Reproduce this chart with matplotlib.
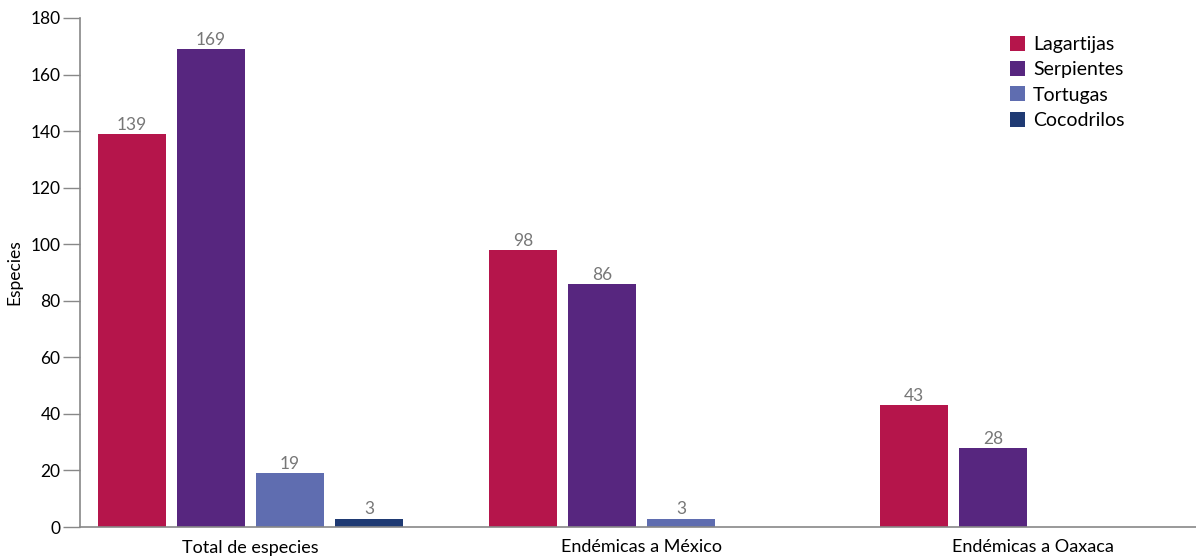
import numpy as np
import matplotlib
matplotlib.use('Agg')
import matplotlib.pyplot as plt

plt.rcParams['font.family'] = ['Lato', 'DejaVu Sans']

categories = ['Total de especies', 'Endémicas a México', 'Endémicas a Oaxaca']
groups = ['Lagartijas', 'Serpientes', 'Tortugas', 'Cocodrilos']
lagartijas = [139, 98, 43]
serpientes = [169, 86, 28]
tortugas = [19, 3, np.nan]
cocodrilos = [3, np.nan, np.nan]
colors = ['#B5154B', '#57267F', '#5F6DB0', '#1F3A73']

series = [lagartijas, serpientes, tortugas, cocodrilos]

fig = plt.figure(figsize=(11.96, 5.6), dpi=100)
ax = fig.add_axes([80 / 1196, 33 / 560, 1 - 80 / 1196, 509 / 560])

x = np.arange(len(categories))
w = 0.176
pitch = 0.202
for i, (name, vals, c) in enumerate(zip(groups, series, colors)):
    pos = x + (i - 1.5) * pitch
    v = np.array(vals, dtype=float)
    ok = ~np.isnan(v)
    ax.bar(pos[ok], v[ok], width=w, color=c, label=name)
    for px, pv in zip(pos[ok], v[ok]):
        ax.text(px, pv + 0.4, f'{int(pv)}', ha='center', va='bottom',
                fontsize=12.5, color='#777777')

ax.set_xlim(-0.436, 2.418)
ax.set_ylim(0, 180)
ax.set_yticks(range(0, 181, 20))
ax.set_xticks(x)
ax.set_xticklabels(categories, fontsize=13)
ax.tick_params(axis='x', length=0, pad=9)
ax.tick_params(axis='y', length=12, width=1, color='#888888', labelsize=12.5, pad=2)
for s in ['top', 'right']:
    ax.spines[s].set_visible(False)
for s in ['left', 'bottom']:
    ax.spines[s].set_color('#888888')
    ax.spines[s].set_linewidth(1.2)
ax.set_ylabel('Especies', fontsize=12.5, labelpad=6)

ax.legend(loc='upper left', bbox_to_anchor=(1000 / 1196, 1 - 26 / 560),
          bbox_transform=fig.transFigure, frameon=False,
          fontsize=14, handlelength=0.8, handleheight=0.8, handletextpad=0.4,
          labelspacing=0.42, borderpad=0)

fig.savefig('out.png', dpi=100)
